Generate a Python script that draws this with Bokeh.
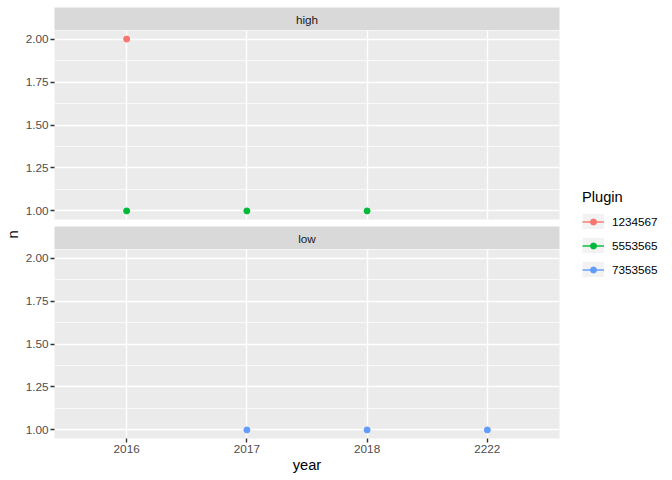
from bokeh.plotting import figure
from bokeh.models import (FactorRange, Range1d, FixedTicker, PrintfTickFormatter,
                          Label, Legend, LegendItem, ColumnDataSource, Spacer)
from bokeh.transform import factor_cmap
from bokeh.layouts import row, column
from bokeh.embed import file_html
from bokeh.resources import INLINE

# ---------------- data ----------------
years = ["2016", "2017", "2018", "2222"]
plugins = ["1234567", "5553565", "7353565"]
plugin_colors = ["#F8766D", "#00BA38", "#619CFF"]
facets = ["high", "low"]

obs_facet = ["high", "high", "high", "high", "low", "low", "low"]
obs_plugin = ["1234567", "5553565", "5553565", "5553565", "7353565", "7353565", "7353565"]
obs_year = ["2016", "2016", "2017", "2018", "2017", "2018", "2222"]
obs_n = [2, 1, 1, 1, 1, 1, 1]

y_ticks = [1.0, 1.25, 1.5, 1.75, 2.0]
y_minor = [1.125, 1.375, 1.625, 1.875]

FONT = "Liberation Sans"
SMALL = "11.73px"
BIG = "14.67px"
TOTAL_H = 476

x_range = FactorRange(factors=years, range_padding=0.05)


def subset(key, vals):
    idx = [i for i, v in enumerate(vals) if v == key]
    return dict(year=[obs_year[i] for i in idx], n=[obs_n[i] for i in idx],
                plugin=[obs_plugin[i] for i in idx])


def strip(text, height, border_top):
    s = figure(width=540, height=height, x_range=Range1d(0, 1), y_range=Range1d(0, 1),
               output_backend="svg", toolbar_location=None,
               x_axis_location=None, y_axis_location=None,
               min_border_left=31, min_border_right=3, min_border_top=border_top,
               min_border_bottom=0)
    s.background_fill_color = "#D9D9D9"
    s.border_fill_color = "white"
    s.outline_line_color = None
    s.grid.visible = False
    s.add_layout(Label(x=0.5, y=0.5, text=text, text_align="center", text_baseline="middle",
                       text_font=FONT, text_font_size=SMALL, text_color="#1A1A1A"))
    return s


def panel(facet, height, border_bottom, show_x):
    p = figure(width=540, height=height, x_range=x_range, y_range=Range1d(0.95, 2.05),
               output_backend="svg", toolbar_location=None,
               min_border_left=31, min_border_right=3, min_border_top=0,
               min_border_bottom=border_bottom)
    p.background_fill_color = "#EBEBEB"
    p.border_fill_color = "white"
    p.outline_line_color = None
    ticker = FixedTicker(ticks=y_ticks, minor_ticks=y_minor)
    p.yaxis.ticker = ticker
    p.ygrid.ticker = ticker
    p.yaxis.formatter = PrintfTickFormatter(format="%.2f")
    for ax in [p.yaxis, p.xaxis]:
        ax.axis_line_color = None
        ax.major_tick_line_color = "#333333"
        ax.major_tick_line_width = 1.4
        ax.major_tick_out = 4
        ax.major_tick_in = 0
        ax.minor_tick_line_color = None
        ax.major_label_text_font = FONT
        ax.major_label_text_font_size = SMALL
        ax.major_label_text_color = "#4D4D4D"
        ax.major_label_standoff = 2
    p.yaxis.axis_label = None
    if show_x:
        p.xaxis.axis_label = "year"
        p.xaxis.axis_label_text_font = FONT
        p.xaxis.axis_label_text_font_size = BIG
        p.xaxis.axis_label_text_font_style = "normal"
        p.xaxis.axis_label_text_color = "black"
        p.xaxis.axis_label_standoff = 1
    else:
        p.xaxis.axis_label = None
        p.xaxis.visible = False
    p.ygrid.grid_line_color = "white"
    p.ygrid.grid_line_width = 1.4
    p.ygrid.minor_grid_line_color = "white"
    p.ygrid.minor_grid_line_width = 0.7
    p.xgrid.grid_line_color = "white"
    p.xgrid.grid_line_width = 1.4
    src = ColumnDataSource(subset(facet, obs_facet))
    p.scatter("year", "n", source=src, size=6,
              color=factor_cmap("plugin", palette=plugin_colors, factors=plugins))
    return p


strip1 = strip(facets[0], 30, 7)
top = panel(facets[0], 196, 7, False)
strip2 = strip(facets[1], 23, 0)
bottom = panel(facets[1], 227, 38, True)

# y axis title
nfig = figure(width=22, height=TOTAL_H, x_range=Range1d(0, 22), y_range=Range1d(TOTAL_H, 0),
              output_backend="svg", toolbar_location=None,
              x_axis_location=None, y_axis_location=None,
              min_border_left=0, min_border_right=0, min_border_top=0, min_border_bottom=0)
nfig.outline_line_color = None
nfig.grid.visible = False
nfig.add_layout(Label(x=12, y=234, text="n", angle=90, angle_units="deg",
                      text_align="center", text_baseline="middle",
                      text_font=FONT, text_font_size=BIG, text_color="black"))

# legend
legfig = figure(width=102, height=TOTAL_H - 169, x_range=FactorRange(factors=years),
                y_range=Range1d(0.95, 2.05), output_backend="svg", toolbar_location=None,
                x_axis_location=None, y_axis_location=None,
                min_border_left=0, min_border_right=0, min_border_top=0, min_border_bottom=0)
legfig.outline_line_color = None
legfig.grid.visible = False
legfig.background_fill_color = "white"
bg = legfig.line(x=obs_year, y=obs_n, line_color="#F2F2F2", line_width=22, visible=False)
items = []
for pl, col in zip(plugins, plugin_colors):
    d = subset(pl, obs_plugin)
    lr = legfig.line(x=d["year"], y=d["n"], line_color=col, line_width=1.4, visible=False)
    sr = legfig.scatter(x=d["year"], y=d["n"], size=6, color=col, visible=False)
    items.append(LegendItem(label=pl, renderers=[bg, lr, sr]))
legend = Legend(items=items, title="Plugin", location="top_left", margin=20, padding=0,
                spacing=9, glyph_width=22, glyph_height=15, label_height=15, label_width=20,
                label_standoff=8, title_standoff=9,
                title_text_font=FONT, title_text_font_size=BIG, title_text_font_style="normal",
                title_text_color="black",
                label_text_font=FONT, label_text_font_size=SMALL, label_text_color="black",
                border_line_color=None, background_fill_alpha=0, click_policy="none")
legfig.add_layout(legend, "center")

layout = row(nfig,
             column(strip1, top, strip2, bottom),
             column(Spacer(width=102, height=169), legfig))

open("out.html", "w").write(file_html(layout, INLINE))
